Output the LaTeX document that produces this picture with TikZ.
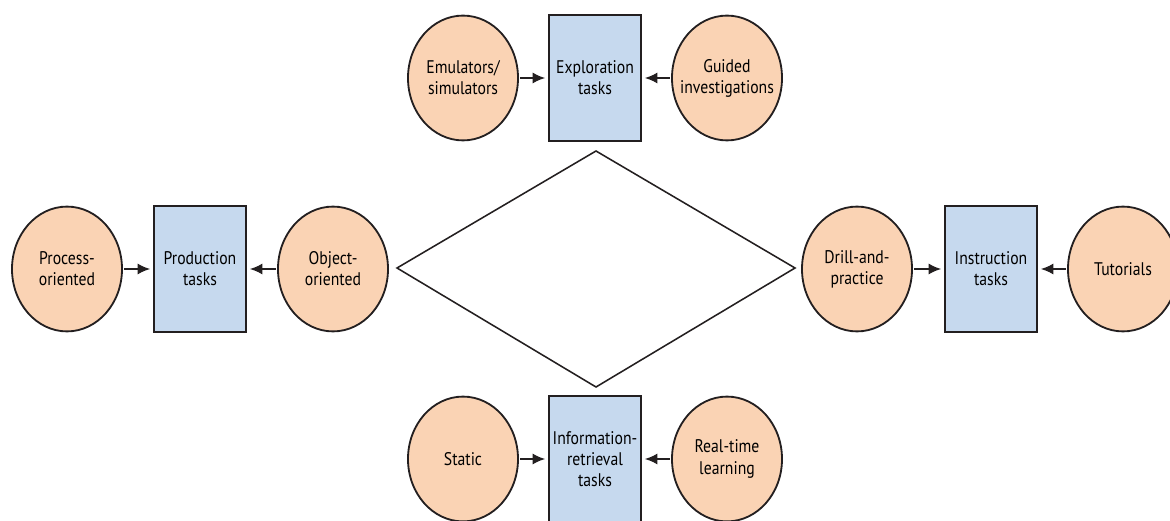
\documentclass[tikz,border=0pt]{standalone}
\usepackage{fontspec}
\setmainfont[FakeStretch=0.86]{PT Sans}
\usetikzlibrary{arrows.meta,shapes.geometric}
\definecolor{peach}{RGB}{250,211,180}
\definecolor{paleblue}{RGB}{198,217,238}
\definecolor{inkline}{RGB}{35,31,32}

\begin{document}
\begin{tikzpicture}[>=Latex,x=0.025cm,y=0.025cm,
  oval/.style={ellipse,draw=inkline,line width=1.3pt,fill=peach,minimum width=2.75cm,
    minimum height=3.12cm,inner xsep=-12pt,inner ysep=0pt,align=center,font=\fontsize{13}{15}\selectfont},
  task/.style={rectangle,draw=inkline,line width=1.3pt,fill=paleblue,minimum width=2.3cm,
    minimum height=3.15cm,inner sep=0pt,align=center,font=\fontsize{13}{15}\selectfont},
  feed/.style={-{Latex[length=9pt,width=8pt]},line width=1.5pt,draw=inkline,shorten >=2pt,shorten <=1pt}]
  \useasboundingbox (0,0) rectangle (1170,520);
  % exploration (top)
  \node[oval] (emul) at (463,442) {Emulators/\\simulators};
  \node[task] (explore) at (595,442) {Exploration\\tasks};
  \node[oval] (guided) at (727,442) {Guided\\investigations};
  % production (left)
  \node[oval] (process) at (67,251) {Process-\\oriented};
  \node[task] (produce) at (200,251) {Production\\tasks};
  \node[oval] (object) at (333,251) {Object-\\oriented};
  % instruction (right)
  \node[oval] (drill) at (857,251) {Drill-and-\\practice};
  \node[task] (instruct) at (991,251) {Instruction\\tasks};
  \node[oval] (tutor) at (1123,251) {Tutorials};
  % information retrieval (bottom)
  \node[oval] (static) at (463,61) {Static};
  \node[task] (inforet) at (595,61) {Information-\\retrieval\\tasks};
  \node[oval] (realtime) at (727,61) {Real-time\\learning};
  % centre diamond
  \draw[inkline,line width=1.1pt,line join=miter]
    (397,252) -- (596,369) -- (795,252) -- (596,133) -- cycle;
  \foreach \from/\to in {emul/explore,guided/explore,process/produce,object/produce,
      drill/instruct,tutor/instruct,static/inforet,realtime/inforet}
    \draw[feed] (\from) -- (\to);
\end{tikzpicture}
\end{document}
